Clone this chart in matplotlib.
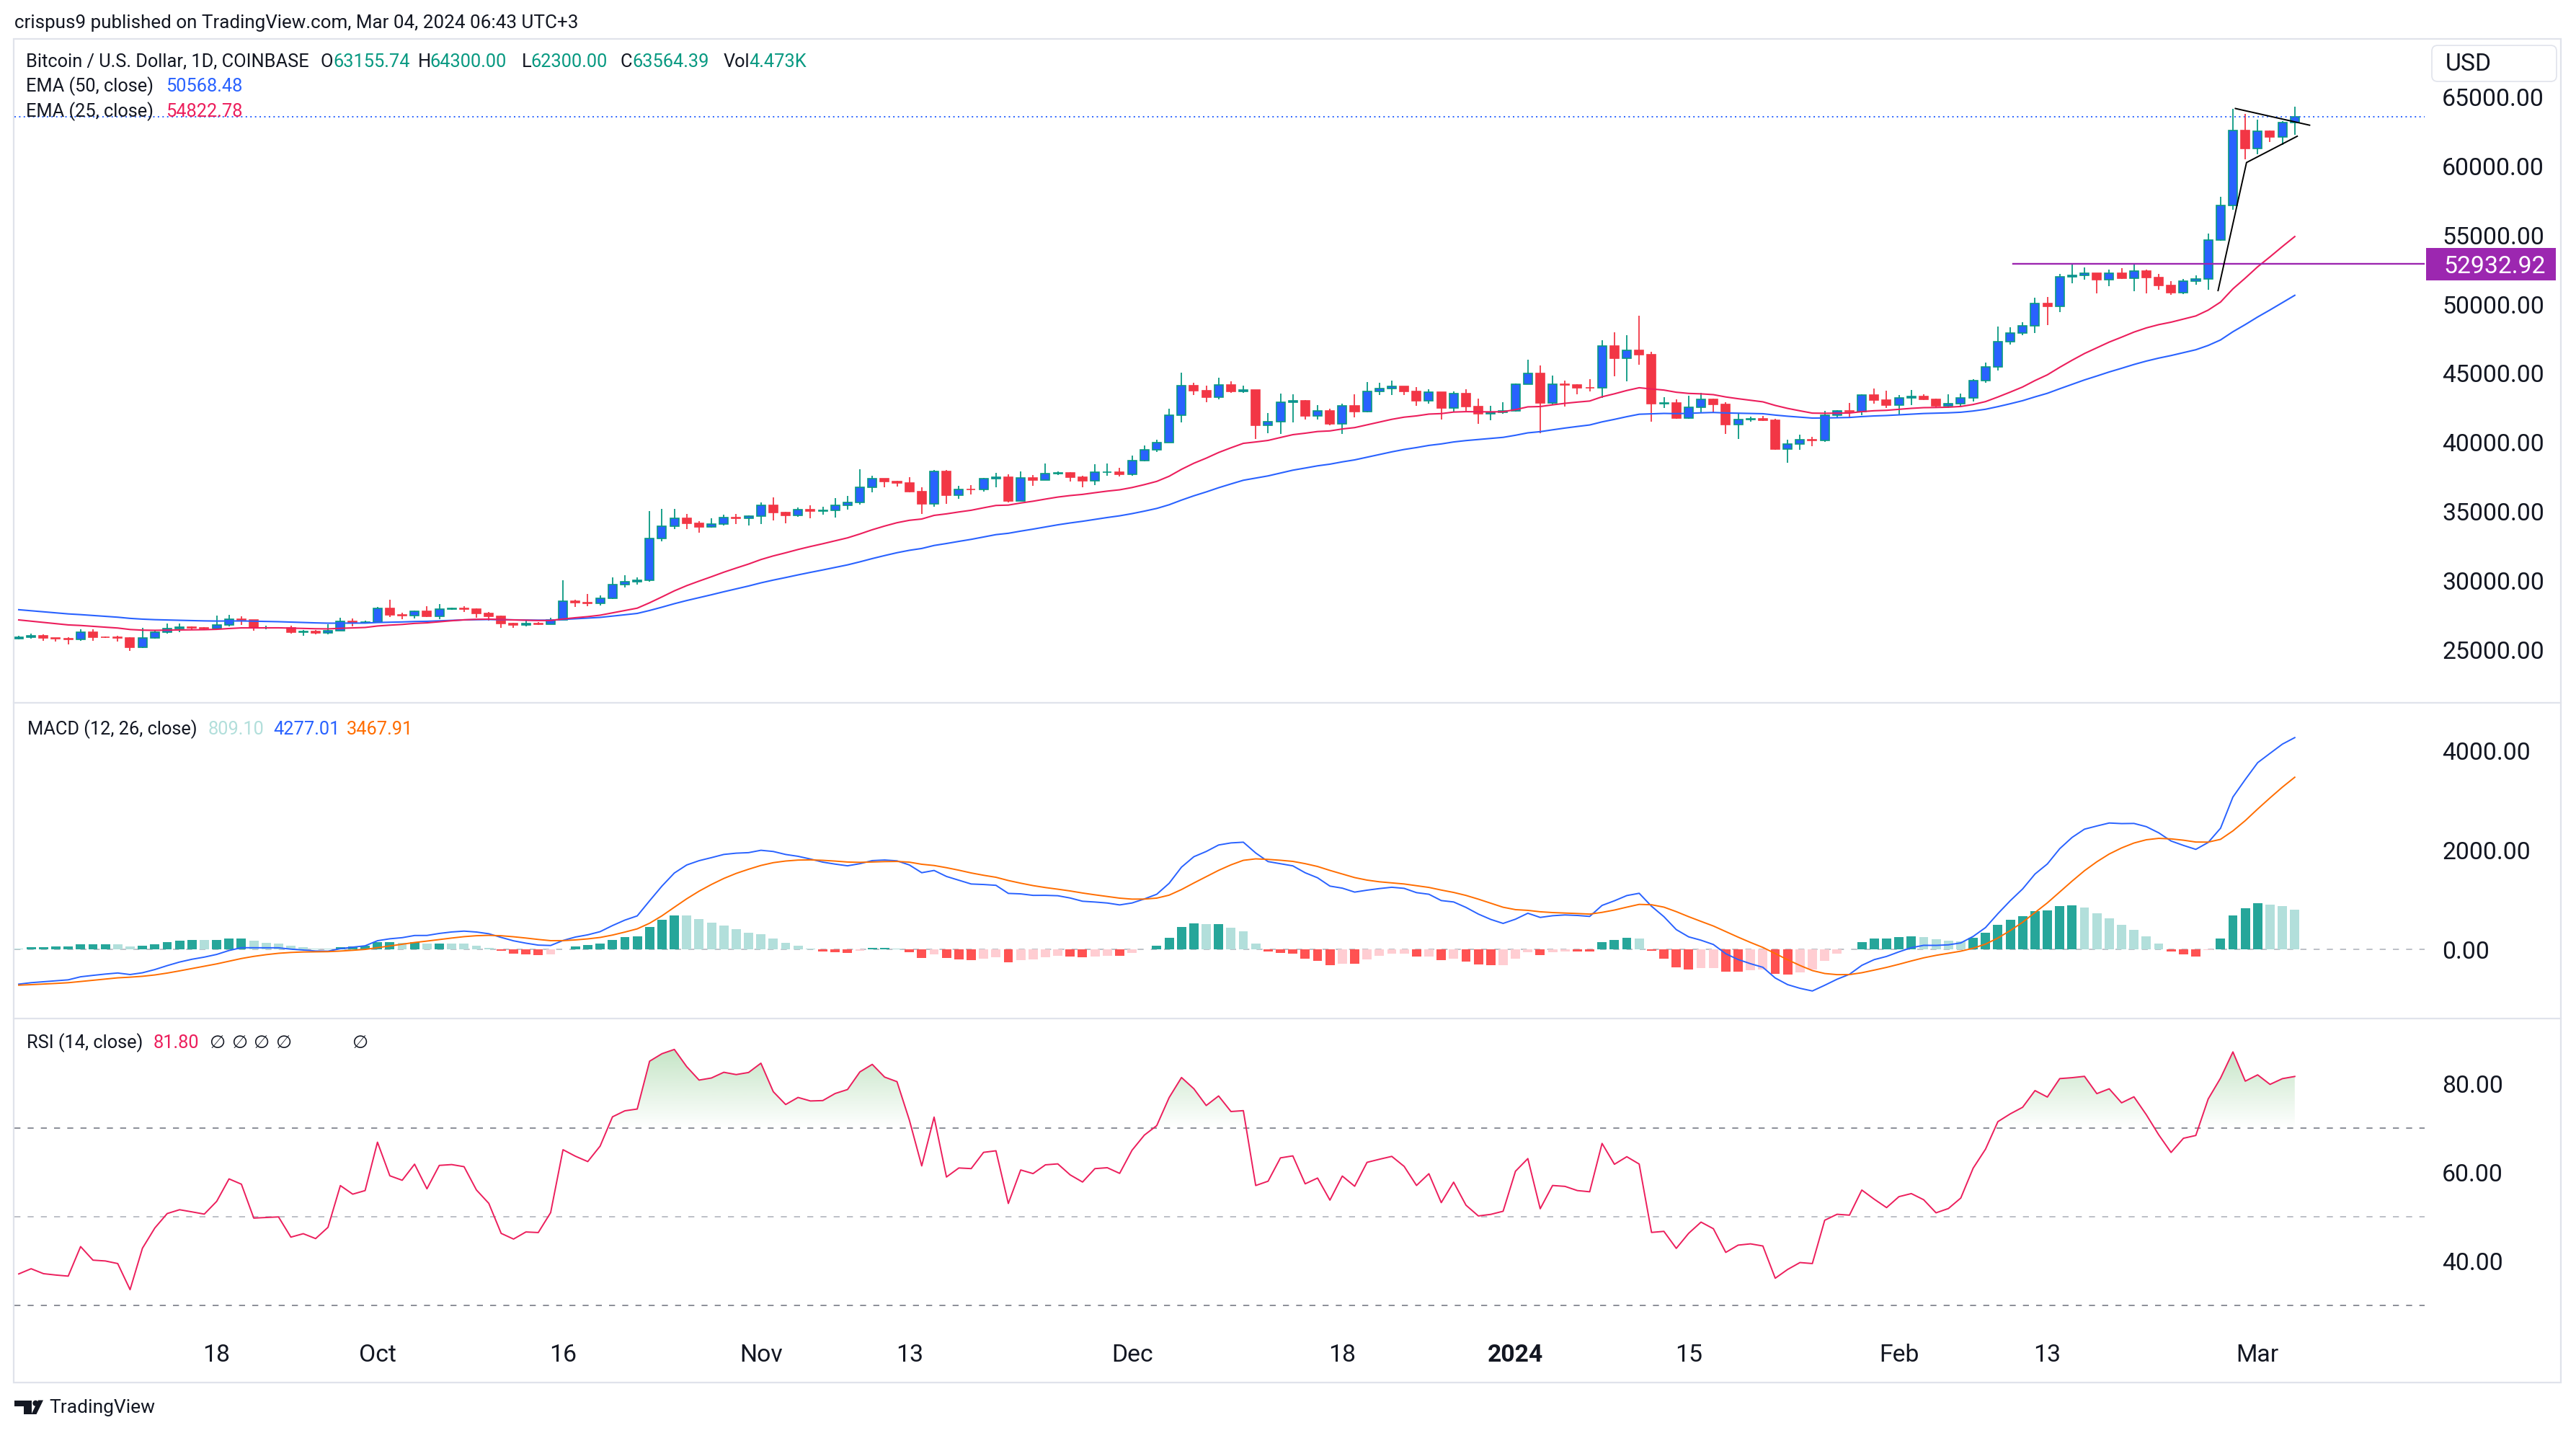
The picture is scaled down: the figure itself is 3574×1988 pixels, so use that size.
import numpy as np
import matplotlib
matplotlib.use("Agg")
import matplotlib.pyplot as plt
from matplotlib import transforms
from matplotlib.colors import to_rgb
from matplotlib.patches import Rectangle, FancyBboxPatch, PathPatch, Polygon, Circle
from matplotlib.path import Path
from matplotlib.ticker import FormatStrFormatter

plt.rcParams["font.family"] = ["Roboto", "DejaVu Sans"]

W, H = 3574, 1988

# BTC/USD daily (Coinbase), bar 0 = 2023-09-02, last bar = 2024-03-04
OPEN = [
    25800, 25870, 25970, 25820, 25780, 25750, 26240, 25910, 25890, 25830,
    25160, 25840, 26230, 26530, 26610, 26570, 26530, 26760, 27210, 27130,
    26570, 26580, 26590, 26250, 26300, 26220, 26370, 27030, 26910, 26970,
    27990, 27500, 27430, 27790, 27410, 27950, 27970, 27940, 27600, 27390,
    26860, 26750, 26860, 26850, 27150, 28500, 28400, 28320, 28720, 29680,
    29920, 29990, 33060, 33930, 34490, 34160, 33900, 34070, 34540, 34500,
    34660, 35430, 34940, 34710, 35110, 35050, 35070, 35430, 35640, 36750,
    37350, 37150, 37080, 36460, 35560, 37880, 36150, 36600, 36580, 37390,
    37470, 35780, 37420, 37290, 37750, 37800, 37460, 37240, 37820, 37860,
    37710, 38700, 39470, 40000, 41990, 44090, 43770, 43290, 44170, 43720,
    43790, 41240, 41480, 42890, 43020, 41940, 42260, 41360, 42670, 42250,
    43680, 43880, 44060, 43710, 43020, 43620, 42510, 43540, 42580, 42100,
    42170, 42300, 44230, 44980, 42860, 44200, 44160, 43980, 43930, 46990,
    46110, 46650, 46350, 42790, 42850, 41740, 42530, 43140, 42760, 41290,
    41640, 41700, 41580, 39540, 39900, 40180, 40120, 41970, 42260, 42220,
    43440, 43060, 42710, 43210, 43350, 43130, 42660, 42820, 43210, 44480,
    45470, 47290, 47910, 48460, 50070, 49880, 51980, 52100, 52270, 51790,
    52270, 51890, 52410, 51930, 51370, 50850, 51670, 51840, 54650, 57180,
    62580, 61280, 62540, 62110, 63155.74,
]
HIGH = [
    25990, 26130, 26100, 25860, 25890, 26440, 26440, 25950, 26000, 25880,
    26560, 26400, 26860, 26860, 26680, 26630, 27440, 27490, 27380, 27160,
    26740, 26640, 26720, 26430, 26390, 26830, 27300, 27230, 27090, 28060,
    28590, 27670, 27830, 28120, 28290, 28040, 28110, 27990, 27740, 27480,
    26950, 27100, 26960, 27290, 30000, 28600, 29000, 28920, 30220, 30370,
    30200, 35030, 35180, 35180, 34800, 34320, 34500, 34760, 34830, 34720,
    35670, 36020, 34970, 35290, 35430, 35360, 35970, 36110, 38060, 37580,
    37390, 37230, 37460, 36770, 37990, 37990, 36860, 36910, 37410, 37810,
    37670, 37900, 37650, 38450, 37890, 37840, 37580, 38400, 38460, 38150,
    39030, 39760, 40220, 42420, 45030, 44330, 44110, 44700, 44400, 44110,
    43800, 42110, 43540, 43470, 43090, 42680, 42440, 42800, 43500, 44370,
    44320, 44500, 44070, 43990, 43850, 43650, 43720, 43850, 43150, 42630,
    42890, 44290, 45990, 45550, 44840, 44460, 44230, 44580, 47420, 47970,
    47770, 49160, 46550, 43280, 43120, 43360, 43590, 43190, 42890, 42150,
    41850, 41900, 41700, 40200, 40540, 40410, 42310, 42330, 42850, 43470,
    43880, 43740, 43440, 43820, 43480, 43180, 43500, 43560, 44570, 45780,
    48370, 48320, 48720, 50500, 50540, 52190, 52930, 52700, 52280, 52530,
    52620, 52960, 52500, 52190, 51670, 51840, 52100, 55130, 57780, 64190,
    63790, 63390, 62600, 63300, 64300.00,
]
LOW = [
    25730, 25800, 25620, 25570, 25380, 25610, 25650, 25810, 25590, 24900,
    25130, 25770, 26130, 26230, 26480, 26410, 26400, 26680, 26800, 26370,
    26480, 26520, 26130, 25990, 26090, 26110, 26340, 26680, 26880, 26960,
    27340, 27180, 27240, 27350, 27180, 27860, 27700, 27300, 27110, 26550,
    26560, 26690, 26800, 26820, 27120, 28100, 28150, 28180, 28630, 29480,
    29680, 29900, 32840, 33700, 33740, 33440, 33800, 33960, 34070, 33970,
    34100, 34370, 34140, 34630, 34500, 34780, 34570, 35150, 35520, 36400,
    36770, 36800, 36400, 34800, 35360, 35560, 35930, 36250, 36450, 36770,
    35640, 35740, 36870, 37270, 37620, 37180, 36770, 36900, 37600, 37550,
    37600, 38650, 39330, 39980, 41470, 43450, 42930, 43120, 43600, 43580,
    40230, 40680, 40630, 41470, 41680, 41680, 41250, 40600, 41810, 42200,
    43420, 43450, 43420, 42670, 42810, 41680, 42160, 42290, 41360, 41590,
    42080, 42230, 44220, 40680, 42680, 42600, 43500, 43710, 43240, 44770,
    44410, 45640, 41500, 42510, 41720, 41720, 42110, 42200, 40630, 40250,
    41500, 41540, 39450, 38540, 39450, 39720, 40050, 41790, 41800, 41970,
    42830, 42490, 42020, 42700, 43060, 42490, 42490, 42660, 42960, 44340,
    45220, 47080, 47770, 47910, 48520, 49450, 51550, 51780, 50800, 51320,
    51840, 50940, 50800, 51060, 50710, 50750, 51440, 51060, 54610, 56860,
    60500, 60900, 61750, 61540, 62300.00,
]
CLOSE = [
    25870, 25970, 25820, 25780, 25750, 26240, 25910, 25890, 25830, 25160,
    25840, 26230, 26530, 26610, 26570, 26530, 26760, 27210, 27130, 26570,
    26580, 26590, 26250, 26300, 26220, 26370, 27030, 26910, 26970, 27990,
    27500, 27430, 27790, 27410, 27950, 27970, 27940, 27600, 27390, 26860,
    26750, 26860, 26850, 27150, 28500, 28400, 28320, 28720, 29680, 29920,
    29990, 33060, 33930, 34490, 34160, 33900, 34070, 34540, 34500, 34660,
    35430, 34940, 34710, 35110, 35050, 35070, 35430, 35640, 36750, 37350,
    37150, 37080, 36460, 35560, 37880, 36150, 36600, 36580, 37390, 37470,
    35780, 37420, 37290, 37750, 37800, 37460, 37240, 37820, 37860, 37710,
    38700, 39470, 40000, 41990, 44090, 43770, 43290, 44170, 43720, 43790,
    41240, 41480, 42890, 43020, 41940, 42260, 41360, 42670, 42250, 43680,
    43880, 44060, 43710, 43020, 43620, 42510, 43540, 42580, 42100, 42170,
    42300, 44230, 44980, 42860, 44200, 44160, 43980, 43930, 46990, 46110,
    46650, 46350, 42790, 42850, 41740, 42530, 43140, 42760, 41290, 41640,
    41700, 41580, 39540, 39900, 40180, 40120, 41970, 42260, 42220, 43440,
    43060, 42710, 43210, 43350, 43130, 42660, 42820, 43210, 44480, 45470,
    47290, 47910, 48460, 50070, 49880, 51980, 52100, 52270, 51790, 52270,
    51890, 52410, 51930, 51370, 50850, 51670, 51840, 54650, 57180, 62580,
    61280, 62540, 62110, 63156, 63564.39,
]

# indicator state at bar 0 (history before the visible window)
EMA50_START = 27880.0
EMA25_START = 27140.0
EMA12_START = 26250.0
EMA26_START = 26950.0
SIGNAL_START = -720.0
RSI_GAIN_START = 150.0
RSI_LOSS_START = 255.0

TICK_POS = [16, 29, 44, 60, 72, 90, 107, 121, 135, 152, 164, 181]
TICK_LABELS = ["18", "Oct", "16", "Nov", "13", "Dec", "18", "2024", "15", "Feb", "13", "Mar"]
PRICE_TICKS = [25000, 30000, 35000, 40000, 45000, 50000, 55000, 60000, 65000]
MACD_TICKS = [0, 2000, 4000]
RSI_TICKS = [40, 60, 80]

LEVEL = 52932.92
LEVEL_FROM = 161.2
LAST_PRICE = 63564.39
FLAG_X = [177.8, 180.1, 184.2]
FLAG_Y = [51000, 60274, 62180]
PENNANT_X = [179.2, 185.2]
PENNANT_Y = [64190, 62980]

TEXT = "#131722"
GREEN = "#089981"
UP_BODY = "#2962FF"
DOWN = "#F23645"
BLUE = "#2962FF"
PINK = "#EC1E5C"
ORANGE = "#FF6D00"
PURPLE = "#9C27B0"
FRAME = "#E0E3EB"

LEG = 18.3
HEAD = 18.7
AXF = 24.3


def ema(values, n, start):
    a = 2.0 / (n + 1)
    out = np.empty(len(values))
    out[0] = start
    for i in range(1, len(values)):
        out[i] = out[i - 1] + a * (values[i] - out[i - 1])
    return out


def rsi(values, n, gain, loss):
    out = [100 - 100 / (1 + gain / loss)]
    for i in range(1, len(values)):
        d = values[i] - values[i - 1]
        gain = (gain * (n - 1) + max(d, 0)) / n
        loss = (loss * (n - 1) + max(-d, 0)) / n
        out.append(100 - 100 / (1 + gain / loss))
    return np.array(out)


def box(left, top, right, bottom):
    return [left / W, 1 - bottom / H, (right - left) / W, (bottom - top) / H]


o, hi, lo, c = (np.array(v, dtype=float) for v in (OPEN, HIGH, LOW, CLOSE))
x = np.arange(len(c))

ema50 = ema(c, 50, EMA50_START)
ema25 = ema(c, 25, EMA25_START)
macd = ema(c, 12, EMA12_START) - ema(c, 26, EMA26_START)
signal = ema(macd, 9, SIGNAL_START)
hist = macd - signal
rsi_v = rsi(c, 14, RSI_GAIN_START, RSI_LOSS_START)

fig = plt.figure(figsize=(W / 100, H / 100), dpi=100)
fig.patch.set_facecolor("white")

ax_p = fig.add_axes(box(20, 55, 3364, 975))
ax_m = fig.add_axes(box(20, 975, 3364, 1413), sharex=ax_p)
ax_r = fig.add_axes(box(20, 1413, 3364, 1857), sharex=ax_p)

for ax in (ax_p, ax_m, ax_r):
    for s in ax.spines.values():
        s.set_visible(False)
    ax.set_facecolor("none")
    ax.yaxis.tick_right()
    ax.tick_params(axis="y", length=0, pad=17.3, labelsize=AXF, labelcolor=TEXT)
    ax.tick_params(axis="x", length=0, labelbottom=False)
    ax.yaxis.set_major_formatter(FormatStrFormatter("%.2f"))

# --- price pane ---
up = c >= o
ax_p.vlines(x[up], lo[up], hi[up], color=GREEN, lw=1.3, zorder=2)
ax_p.vlines(x[~up], lo[~up], hi[~up], color=DOWN, lw=1.3, zorder=2)
ax_p.bar(x[up], (c - o)[up], bottom=o[up], width=0.7, color=UP_BODY,
         edgecolor=GREEN, linewidth=1.2, zorder=3)
ax_p.bar(x[~up], (c - o)[~up], bottom=o[~up], width=0.7, color=DOWN,
         edgecolor=DOWN, linewidth=1.2, zorder=3)
ax_p.plot(x, ema50, color=BLUE, lw=1.5, zorder=4)
ax_p.plot(x, ema25, color=PINK, lw=1.5, zorder=4)
ax_p.axhline(LAST_PRICE, color=BLUE, lw=1.4, ls=(0, (1, 2.3)), zorder=4)
ax_p.plot([LEVEL_FROM, 200], [LEVEL, LEVEL], color=PURPLE, lw=1.7, zorder=5)
ax_p.plot(FLAG_X, FLAG_Y, color="black", lw=1.4, zorder=6)
ax_p.plot(PENNANT_X, PENNANT_Y, color="black", lw=1.4, zorder=6)
ax_p.set_yticks(PRICE_TICKS)
ax_p.set_ylim(21136, 69177)

blend = transforms.blended_transform_factory(ax_p.transAxes, ax_p.transData)
ax_p.add_patch(Rectangle((3346 / 3344, LEVEL - 1175), 180 / 3344, 2350,
                         transform=blend, facecolor=PURPLE, edgecolor="none",
                         clip_on=False, zorder=7))
ax_p.text(3370 / 3344, LEVEL, f"{LEVEL:.2f}", transform=blend, color="white",
          fontsize=AXF, va="center_baseline", ha="left", clip_on=False, zorder=8)

# --- MACD pane ---
cols = []
for i, hv in enumerate(hist):
    prev = hist[i - 1] if i else hv
    if hv >= 0:
        cols.append("#26A69A" if hv > prev else "#B2DFDB")
    else:
        cols.append("#FF5252" if hv < prev else "#FFCDD2")
ax_m.bar(x, hist, width=0.75, color=cols, zorder=2)
ax_m.axhline(0, color="#B2B5BE", lw=1.2, ls=(0, (5, 6)), zorder=1)
ax_m.plot(x, macd, color=BLUE, lw=1.4, zorder=3)
ax_m.plot(x, signal, color=ORANGE, lw=1.4, zorder=3)
ax_m.set_yticks(MACD_TICKS)
ax_m.set_ylim(-1391, 4957)

# --- RSI pane ---
fill = ax_r.fill_between(x, rsi_v, 70, where=rsi_v > 70, interpolate=True,
                         facecolor="none", edgecolor="none")
clip = PathPatch(Path.make_compound_path(*fill.get_paths()), transform=ax_r.transData,
                 facecolor="none", edgecolor="none")
ax_r.add_patch(clip)
grad = np.zeros((200, 2, 4))
grad[..., :3] = to_rgb("#4CAF50")
grad[..., 3] = np.linspace(0.0, 0.55, 200)[:, None]
im = ax_r.imshow(grad, extent=(x[0], x[-1], 70, 100), origin="lower",
                 aspect="auto", interpolation="bilinear", zorder=1)
im.set_clip_path(clip)
ax_r.axhline(70, color="#787B86", lw=1.2, ls=(0, (5, 6)), zorder=1)
ax_r.axhline(50, color="#B2B5BE", lw=1.2, ls=(0, (5, 6)), zorder=1)
ax_r.axhline(30, color="#787B86", lw=1.2, ls=(0, (5, 6)), zorder=1)
ax_r.plot(x, rsi_v, color=PINK, lw=1.4, zorder=3)
ax_r.set_yticks(RSI_TICKS)
ax_r.set_ylim(22.43, 94.74)

ax_r.set_xticks(TICK_POS, TICK_LABELS)
ax_r.tick_params(axis="x", labelbottom=True, pad=5, labelsize=AXF, labelcolor=TEXT)
ax_r.get_xticklabels()[TICK_LABELS.index("2024")].set_fontweight("bold")
ax_p.set_xlim(-0.35, 194.5)

# --- overlay in pixel units: frame, legends, header, footer ---
ov = fig.add_axes([0, 0, 1, 1], zorder=10)
ov.set_xlim(0, W)
ov.set_ylim(H, 0)
ov.axis("off")
ov.patch.set_alpha(0)

ov.add_patch(Rectangle((19, 54), 3534, 1864, facecolor="none", edgecolor=FRAME, lw=1.6))
ov.plot([19, 3553], [975, 975], color=FRAME, lw=1.6)
ov.plot([19, 3553], [1413, 1413], color=FRAME, lw=1.6)
ov.add_patch(FancyBboxPatch((3374, 63), 173, 50, boxstyle="round,pad=0,rounding_size=8",
                            facecolor="white", edgecolor=FRAME, lw=1.2))
ov.text(3393, 89, "USD", fontsize=AXF, color=TEXT, va="center", ha="left")

ov.text(20, 32, "crispus9 published on TradingView.com, Mar 04, 2024 06:43 UTC+3",
        fontsize=HEAD, color=TEXT, va="center", ha="left")

legend_rows = [
    (86, [(36, "Bitcoin / U.S. Dollar, 1D, COINBASE", TEXT), (444.6, "O", TEXT),
          (462, "63155.74", GREEN), (580, "H", TEXT), (596, "64300.00", GREEN),
          (724, "L", TEXT), (736, "62300.00", GREEN), (860.5, "C", TEXT),
          (877.5, "63564.39", GREEN), (1003.5, "Vol", TEXT), (1039, "4.473K", GREEN)]),
    (120, [(36, "EMA (50, close)", TEXT), (230, "50568.48", BLUE)]),
    (155, [(36, "EMA (25, close)", TEXT), (230, "54822.78", PINK)]),
    (1012, [(38, "MACD (12, 26, close)", TEXT), (289, "809.10", "#B2DFDB"),
            (379.5, "4277.01", BLUE), (481, "3467.91", ORANGE)]),
    (1447, [(37, "RSI (14, close)", TEXT), (213, "81.80", PINK), (290, "∅", TEXT),
            (321, "∅", TEXT), (351, "∅", TEXT), (382, "∅", TEXT), (488, "∅", TEXT)]),
]
for ypix, parts in legend_rows:
    for xpix, s, col in parts:
        ov.text(xpix, ypix, s, fontsize=LEG, color=col, va="center", ha="left")

# TradingView logo
ov.add_patch(Polygon([(20, 1942.5), (43.5, 1942.5), (43.5, 1962), (32.5, 1962),
                      (32.5, 1950.5), (20, 1950.5)], closed=True, color=TEXT, lw=0))
ov.add_patch(Circle((49.3, 1946.7), 4.0, color=TEXT, lw=0))
ov.add_patch(Polygon([(53, 1942.5), (60, 1942.5), (50.5, 1962), (43.5, 1962)],
                     closed=True, color=TEXT, lw=0))
ov.text(68, 1953, "TradingView", fontsize=19, color=TEXT, va="center", ha="left")

fig.savefig("out.png", dpi=100, facecolor="white")
